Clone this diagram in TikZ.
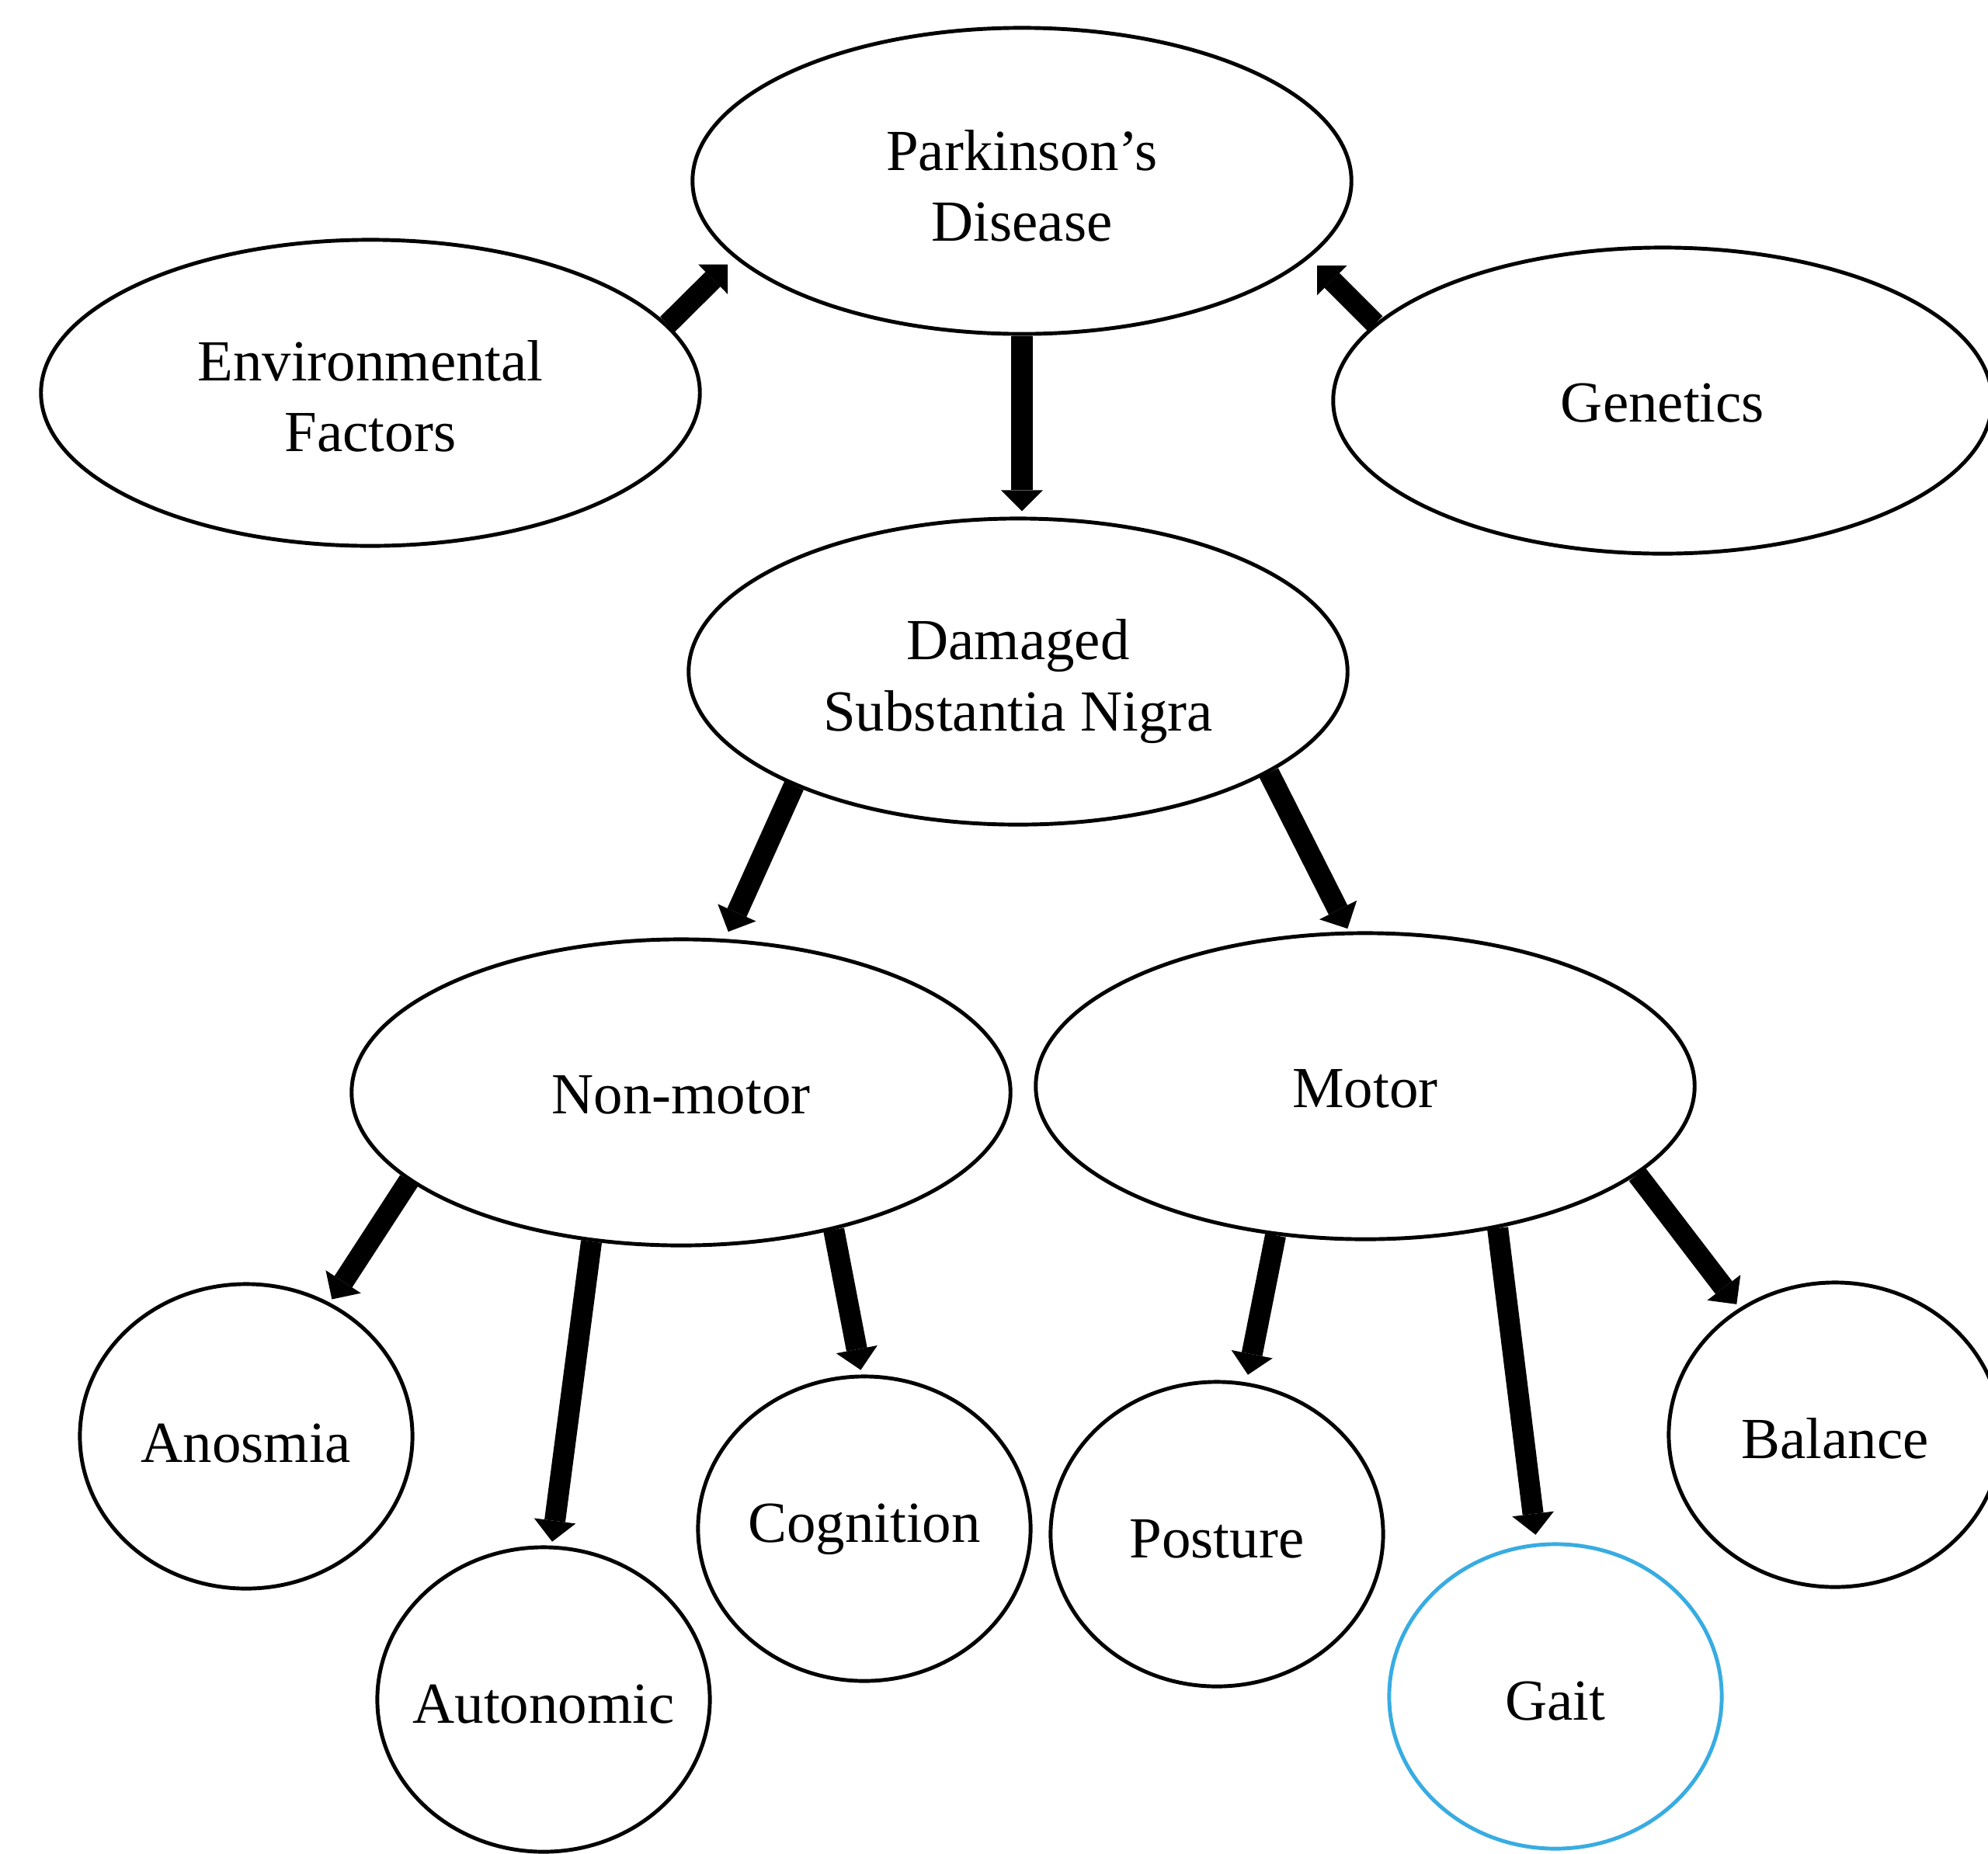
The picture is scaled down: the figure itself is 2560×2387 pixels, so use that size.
\documentclass[tikz,border=0pt]{standalone}
\usepackage{fontspec}
\setmainfont{Liberation Serif}
\usepackage{tikz}
\usetikzlibrary{shapes.geometric, arrows.meta}
\definecolor{gaitblue}{RGB}{56,172,226}

\begin{document}
\begin{tikzpicture}[x=0.01cm, y=-0.01cm,
    big/.style={ellipse, draw, line width=1.4pt, minimum width=8.48cm, minimum height=3.94cm,
        inner sep=0pt, align=center, text height=16pt, font=\fontsize{21.3}{26}\selectfont},
    small/.style={ellipse, draw, line width=1.4pt, minimum width=4.28cm, minimum height=3.92cm,
        inner sep=0pt, text height=17.5pt, font=\fontsize{21.3}{26}\selectfont},
    flow/.style={line width=7.7pt, -{Triangle[width=0.54cm, length=0.27cm, line width=0pt]},
        shorten >=0.07cm}]
    \useasboundingbox (0,0) rectangle (2560,2387);

    % Top row
    \node[big, text height=44.3pt] (pd) at (1316,233) {Parkinson's\\Disease};
    \node[big, text height=43.3pt] (env) at (477,506) {Environmental\\Factors};
    \node[big] (genes) at (2141,516) {Genetics};

    % Middle
    \node[big, text height=48pt] (dsn) at (1311,865) {Damaged\\Substantia Nigra};
    \node[big] (nonmotor) at (877,1407) {Non-motor};
    \node[big] (motor) at (1758,1399) {Motor};

    % Symptoms
    \node[small, text height=19pt] (anosmia) at (317,1850) {\makebox[0pt]{Anosmia}};
    \node[small] (autonomic) at (700,2189) {\makebox[0pt]{Autonomic}};
    \node[small, text height=14.5pt] (cognition) at (1113,1969) {\makebox[0pt]{Cognition}};
    \node[small] (posture) at (1567,1976) {\makebox[0pt]{Posture}};
    \node[small, draw=gaitblue] (gait) at (2003,2185) {\makebox[0pt]{Gait}};
    \node[small] (balance) at (2363,1848) {\makebox[0pt]{Balance}};

    % Causes
    \draw[flow, shorten >=0.12cm] (env.13) -- (pd.195);
    \draw[flow, shorten >=0.14cm] (genes.165) -- (pd.345);
    \draw[flow] (pd.south) -- (pd.south |- dsn.north);

    % Damage to symptom groups
    \draw[flow, shorten >=0.1cm] (dsn.207) -- (nonmotor.74);
    \draw[flow, shorten >=0.04cm] (dsn.338) -- (motor.96);

    % Non-motor symptoms
    \draw[flow, shorten >=0.05cm] (nonmotor.198) -- (anosmia.58);
    \draw[flow, shorten >=0.05cm] (nonmotor.239) -- (autonomic.87);
    \draw[flow, shorten >=0.06cm] (nonmotor.318) -- (cognition.91);

    % Motor symptoms
    \draw[flow, shorten >=0.1cm] (motor.239) -- (posture.79);
    \draw[flow, shorten >=0.11cm] (motor.313) -- (gait.97);
    \draw[flow, shorten >=0.06cm] (motor.342) -- (balance.127);
\end{tikzpicture}
\end{document}
